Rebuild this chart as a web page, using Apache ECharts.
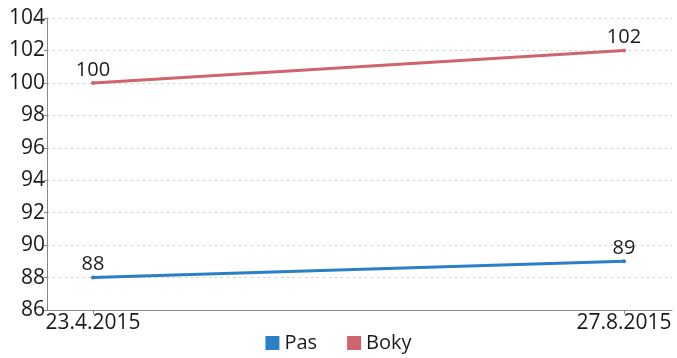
<!DOCTYPE html>
<html>
<head>
<meta charset="utf-8">
<script src="https://cdn.jsdelivr.net/npm/echarts@6/dist/echarts.min.js"></script>
<style>
  html, body { margin: 0; padding: 0; background: #fff; }
  #chart { width: 677px; height: 358px; }
</style>
</head>
<body>
<div id="chart"></div>
<script>
// Measurement dates and values
const dates = ['23.4.2015', '27.8.2015'];
const pas = [88, 89];
const boky = [100, 102];
const yTicks = [86, 88, 90, 92, 94, 96, 98, 100, 102, 104];

const font = '"Open Sans", "Noto Sans", sans-serif';
const ink = '#1a1a1a';
const pts = vals => vals.map((v, i) => [i, v]);

const chart = echarts.init(document.getElementById('chart'));
chart.setOption({
  animation: false,
  textStyle: { fontFamily: font },
  grid: { left: 47, right: 5, top: 18, bottom: 48 },
  legend: {
    bottom: 0,
    left: 'center',
    itemWidth: 14,
    itemHeight: 14,
    itemGap: 30,
    icon: 'rect',
    textStyle: { fontSize: 20, color: ink, fontFamily: font },
    data: ['Pas', 'Boky']
  },
  xAxis: {
    type: 'value',
    min: -0.0866,
    max: 1.0904,
    splitLine: { show: false },
    axisLine: { onZero: false, lineStyle: { color: '#888', width: 1 } },
    axisTick: { customValues: [0, 1], length: 4, lineStyle: { color: '#888' } },
    axisLabel: {
      customValues: [0, 1],
      formatter: v => dates[Math.round(v)],
      fontSize: 21,
      color: ink,
      margin: 3,
      fontFamily: font
    }
  },
  yAxis: {
    type: 'value',
    min: yTicks[0],
    max: yTicks[yTicks.length - 1],
    interval: 2,
    axisLine: { show: true, onZero: false, lineStyle: { color: '#888', width: 1 } },
    axisTick: { show: true, length: 3, lineStyle: { color: '#888' } },
    axisLabel: { fontSize: 21, color: ink, margin: 2, fontFamily: font },
    splitLine: { lineStyle: { color: '#ccc', type: [2, 4], width: 1 } }
  },
  series: [
    {
      name: 'Pas',
      type: 'line',
      data: pts(pas),
      color: '#2a7fc6',
      lineStyle: { width: 3 },
      symbol: 'circle',
      symbolSize: 4,
      label: { show: true, position: 'top', distance: 1, fontSize: 20, color: ink, fontFamily: font }
    },
    {
      name: 'Boky',
      type: 'line',
      data: pts(boky),
      color: '#cf646c',
      lineStyle: { width: 3 },
      symbol: 'circle',
      symbolSize: 4,
      label: { show: true, position: 'top', distance: 1, fontSize: 20, color: ink, fontFamily: font }
    }
  ]
});
</script>
</body>
</html>
